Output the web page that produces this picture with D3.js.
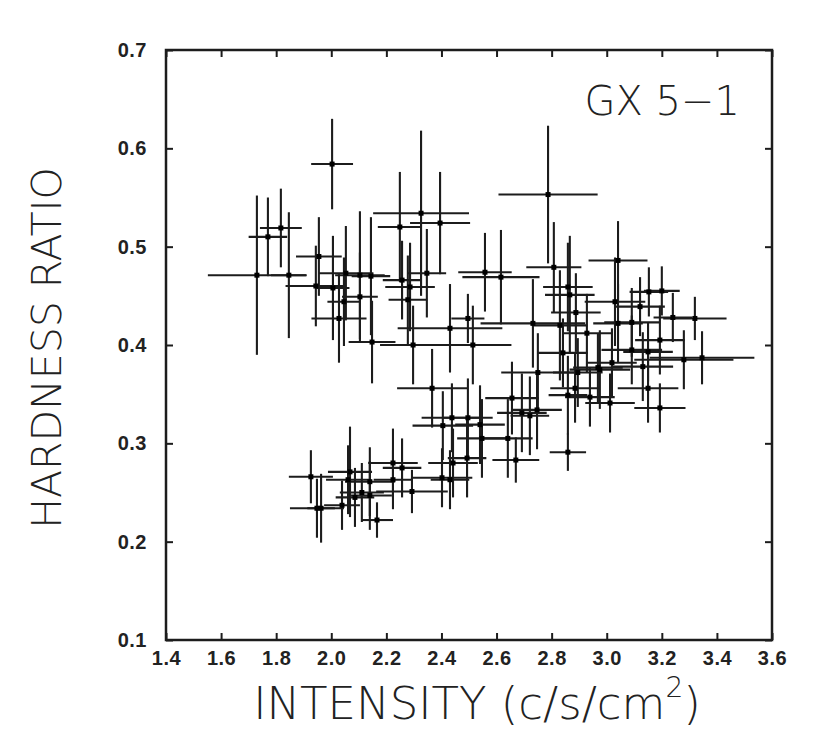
<!DOCTYPE html>
<html>
<head>
<meta charset="utf-8">
<script src="https://cdn.jsdelivr.net/npm/d3@7"></script>
<style>
    html, body { margin: 0; padding: 0; background: #fff; }
    svg { display: block; }
</style>
</head>
<body>
<div id="ground"></div>
<script>
// intensity (c/s/cm2) and its half-width error
const intensity = [
    2.003, 1.817, 1.770, 1.730, 1.846, 1.955, 1.944, 2.006, 2.053, 2.104,
    2.144, 2.046, 2.028, 2.104, 2.148, 2.249, 2.326, 2.395, 2.257, 2.286,
    2.278, 2.347, 2.558, 2.616, 2.787, 2.808, 2.496, 2.431, 3.041, 2.859,
    2.888, 2.732, 2.830, 3.121, 3.153, 3.200, 3.091, 3.240, 3.320, 3.346,
    3.280, 2.866, 3.030, 3.041, 3.193, 2.841, 3.091, 3.150, 3.131, 2.975,
    2.895, 3.150, 3.012, 3.193, 2.885, 2.514, 2.750, 2.968, 3.019, 2.656,
    2.747, 2.692, 2.721, 2.859, 2.939, 2.496, 2.540, 2.641, 2.547, 2.493,
    2.670, 2.859, 2.442, 2.928, 2.438, 2.405, 2.297, 2.366, 2.402, 2.431,
    1.926, 1.948, 1.963, 2.068, 2.061, 2.086, 2.039, 2.111, 2.140, 2.140,
    2.166, 2.224, 2.257, 2.224, 2.293
];
const intensityErr = [
    0.076, 0.076, 0.070, 0.178, 0.065, 0.083, 0.110, 0.060, 0.100, 0.090,
    0.070, 0.060, 0.100, 0.065, 0.085, 0.080, 0.174, 0.109, 0.070, 0.090,
    0.070, 0.070, 0.097, 0.140, 0.180, 0.100, 0.060, 0.190, 0.107, 0.090,
    0.090, 0.190, 0.100, 0.090, 0.070, 0.065, 0.100, 0.070, 0.115, 0.190,
    0.180, 0.090, 0.110, 0.090, 0.090, 0.090, 0.110, 0.090, 0.110, 0.110,
    0.090, 0.110, 0.090, 0.093, 0.090, 0.140, 0.133, 0.090, 0.090, 0.097,
    0.090, 0.090, 0.070, 0.070, 0.090, 0.090, 0.090, 0.090, 0.090, 0.070,
    0.085, 0.066, 0.090, 0.090, 0.110, 0.110, 0.120, 0.127, 0.110, 0.070,
    0.080, 0.098, 0.050, 0.080, 0.080, 0.070, 0.065, 0.080, 0.080, 0.090,
    0.058, 0.090, 0.070, 0.070, 0.130
];
// hardness ratio and its half-width error
const hardness = [
    0.584, 0.519, 0.510, 0.471, 0.471, 0.490, 0.460, 0.458, 0.473, 0.471,
    0.470, 0.444, 0.427, 0.449, 0.403, 0.520, 0.534, 0.524, 0.466, 0.459,
    0.446, 0.473, 0.474, 0.469, 0.553, 0.479, 0.427, 0.417, 0.486, 0.459,
    0.433, 0.422, 0.420, 0.439, 0.454, 0.455, 0.423, 0.428, 0.427, 0.387,
    0.385, 0.451, 0.444, 0.422, 0.405, 0.392, 0.395, 0.393, 0.378, 0.375,
    0.372, 0.356, 0.341, 0.336, 0.356, 0.400, 0.372, 0.377, 0.382, 0.346,
    0.334, 0.331, 0.328, 0.349, 0.347, 0.326, 0.319, 0.305, 0.305, 0.285,
    0.283, 0.291, 0.280, 0.412, 0.326, 0.318, 0.400, 0.356, 0.265, 0.263,
    0.266, 0.234, 0.234, 0.271, 0.263, 0.245, 0.237, 0.250, 0.247, 0.261,
    0.222, 0.280, 0.275, 0.263, 0.251
];
const hardnessErr = [
    0.046, 0.040, 0.040, 0.081, 0.064, 0.040, 0.041, 0.053, 0.048, 0.065,
    0.060, 0.045, 0.045, 0.045, 0.042, 0.056, 0.084, 0.052, 0.040, 0.045,
    0.045, 0.045, 0.040, 0.048, 0.070, 0.046, 0.025, 0.045, 0.040, 0.045,
    0.040, 0.045, 0.056, 0.030, 0.025, 0.025, 0.035, 0.025, 0.022, 0.027,
    0.030, 0.060, 0.045, 0.040, 0.035, 0.035, 0.035, 0.030, 0.035, 0.040,
    0.035, 0.035, 0.030, 0.025, 0.035, 0.040, 0.040, 0.035, 0.035, 0.037,
    0.040, 0.040, 0.040, 0.040, 0.030, 0.040, 0.040, 0.040, 0.040, 0.040,
    0.023, 0.019, 0.035, 0.040, 0.035, 0.035, 0.040, 0.040, 0.030, 0.030,
    0.027, 0.030, 0.035, 0.046, 0.035, 0.030, 0.025, 0.030, 0.035, 0.035,
    0.018, 0.035, 0.030, 0.030, 0.022
];

const xTicks = [1.4, 1.6, 1.8, 2.0, 2.2, 2.4, 2.6, 2.8, 3.0, 3.2, 3.4, 3.6];
const yTicks = [0.1, 0.2, 0.3, 0.4, 0.5, 0.6, 0.7];

const width = 830, height = 734,
    box = {left: 166, right: 772, top: 50, bottom: 640},
    tick = 7,
    ink = "#1c1c1c";

let points = intensity.map((d, i) => ({
    x: d, xe: intensityErr[i],
    y: hardness[i], ye: hardnessErr[i]
}));

let x = d3.scaleLinear().domain([1.4, 3.6]).range([box.left, box.right]);
let y = d3.scaleLinear().domain([0.1, 0.7]).range([box.bottom, box.top]);

let svg = d3.select("#ground")
    .append("svg")
    .attr("width", width)
    .attr("height", height);

// error bars
let bars = svg.append("g")
    .attr("stroke", ink)
    .attr("stroke-width", 2.1);

bars.selectAll("line.h")
    .data(points)
    .join("line")
    .attr("class", "h")
    .attr("x1", d => x(d.x - d.xe))
    .attr("x2", d => x(d.x + d.xe))
    .attr("y1", d => y(d.y))
    .attr("y2", d => y(d.y));

bars.selectAll("line.v")
    .data(points)
    .join("line")
    .attr("class", "v")
    .attr("x1", d => x(d.x))
    .attr("x2", d => x(d.x))
    .attr("y1", d => y(d.y - d.ye))
    .attr("y2", d => y(d.y + d.ye));

svg.append("g")
    .selectAll("rect")
    .data(points)
    .join("rect")
    .attr("x", d => x(d.x) - 2.5)
    .attr("y", d => y(d.y) - 2.5)
    .attr("width", 5)
    .attr("height", 5)
    .attr("fill", "#000");

// frame and inward ticks on all four sides
let axisFont = function (g) {
    g.select(".domain").remove();
    g.selectAll(".tick line").attr("stroke", ink).attr("stroke-width", 2);
    g.selectAll(".tick text")
        .attr("fill", "#222")
        .attr("font-family", "Liberation Sans, Arial, sans-serif")
        .attr("font-weight", "bold")
        .attr("font-size", 20)
        .attr("letter-spacing", 0.5);
};

svg.append("g")
    .attr("transform", `translate(0,${box.bottom})`)
    .call(d3.axisBottom(x).tickValues(xTicks).tickFormat(d3.format(".1f"))
        .tickSizeInner(-tick).tickSizeOuter(0).tickPadding(11))
    .call(axisFont);

svg.append("g")
    .attr("transform", `translate(0,${box.top})`)
    .call(d3.axisTop(x).tickValues(xTicks).tickFormat("")
        .tickSizeInner(-tick).tickSizeOuter(0))
    .call(axisFont);

svg.append("g")
    .attr("transform", `translate(${box.left},0)`)
    .call(d3.axisLeft(y).tickValues(yTicks).tickFormat(d3.format(".1f"))
        .tickSizeInner(-tick).tickSizeOuter(0).tickPadding(19))
    .call(axisFont);

svg.append("g")
    .attr("transform", `translate(${box.right},0)`)
    .call(d3.axisRight(y).tickValues(yTicks).tickFormat("")
        .tickSizeInner(-tick).tickSizeOuter(0))
    .call(axisFont);

svg.append("rect")
    .attr("x", box.left)
    .attr("y", box.top)
    .attr("width", box.right - box.left)
    .attr("height", box.bottom - box.top)
    .attr("fill", "none")
    .attr("stroke", ink)
    .attr("stroke-width", 2.5);

// titles
const titleFont = "DejaVu Sans, Liberation Sans, sans-serif";

let xt = svg.append("text")
    .attr("x", 477)
    .attr("y", 719)
    .attr("text-anchor", "middle")
    .attr("font-family", titleFont)
    .attr("font-weight", 200)
    .attr("font-size", 45)
    .attr("fill", "#222");
xt.append("tspan").text("INTENSITY (c/s/cm");
xt.append("tspan").attr("font-size", 28).attr("dy", -22).text("2");
xt.append("tspan").attr("dy", 22).text(")");

svg.append("text")
    .attr("transform", "translate(61,348) rotate(-90)")
    .attr("text-anchor", "middle")
    .attr("font-family", titleFont)
    .attr("font-weight", 200)
    .attr("font-size", 41)
    .attr("fill", "#222")
    .text("HARDNESS RATIO");

svg.append("text")
    .attr("x", 740)
    .attr("y", 115)
    .attr("text-anchor", "end")
    .attr("font-family", titleFont)
    .attr("font-weight", 200)
    .attr("font-size", 40)
    .attr("fill", "#222")
    .text("GX 5\u22121");
</script>
</body>
</html>
